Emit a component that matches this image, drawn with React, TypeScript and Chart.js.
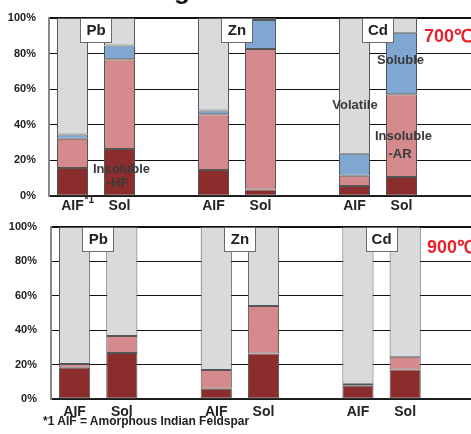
import React, { useEffect, useRef } from 'react';
import { Chart, registerables } from 'chart.js';

Chart.register(...registerables);

const FONT = '"Liberation Sans", Arial, Helvetica, sans-serif';

const categories = ['AIF', 'Sol', '', 'AIF', 'Sol', '', 'AIF', 'Sol', ''];
const elements = ['Pb', 'Zn', 'Cd'];
const yTickValues = [0, 20, 40, 60, 80, 100];

// 700 °C
const hf700 = [15.7, 26.4, null, 14.6, 3.7, null, 5.6, 10.7, null];
const ar700 = [16.5, 50.4, null, 31.3, 78.9, null, 5.8, 46.4, null];
const sol700 = [2.4, 7.8, null, 2.2, 16.3, null, 12.4, 34.6, null];
const vol700 = [65.4, 15.4, null, 51.9, 1.1, null, 76.2, 8.3, null];

// 900 °C
const hf900 = [18.1, 26.8, null, 6.0, 26.4, null, 7.7, 17.2, null];
const ar900 = [2.2, 9.9, null, 10.8, 27.6, null, 1.2, 7.3, null];
const sol900 = [null, null, null, null, null, null, null, null, null];
const vol900 = [79.7, 63.3, null, 83.2, 46.0, null, 91.1, 75.5, null];

const seriesNames = ['Insoluble-HF', 'Insoluble-AR', 'Soluble', 'Volatile'];
const seriesColors = ['#8B2D2D', '#D48A8D', '#7FA7D1', '#D9DADC'];

type Note = { text: string; cat: number; dx: number; v: number };

const notes700: Note[] = [
  { text: 'Insoluble', cat: 1, dx: 2, v: 15.2 },
  { text: '-HF', cat: 1, dx: -2, v: 7.3 },
  { text: 'Volatile', cat: 6, dx: 0.5, v: 50.7 },
  { text: 'Soluble', cat: 7, dx: -1, v: 76 },
  { text: 'Insoluble', cat: 7, dx: 2, v: 33.3 },
  { text: '-AR', cat: 7, dx: -1.5, v: 23.6 },
];

interface Props {
  top: number;
  height: number;
  data: (number | null)[][];
  temp: string;
  tempDy: number;
  tempX: number;
  yWidth: number;
  padTop: number;
  xHeight: number;
  padRight: number;
  xTickPad: number;
  yTickGap: number;
  notes: Note[];
  footMark: boolean;
  titleFrag: boolean;
}

function StackChart(p: Props) {
  const ref = useRef<HTMLCanvasElement>(null);
  useEffect(() => {
    const canvas = ref.current;
    if (!canvas) return;
    const overlay = {
      id: 'overlay',
      afterDraw(chart: any) {
        const { ctx, chartArea } = chart;
        const x = chart.scales.x;
        const y = chart.scales.y;
        ctx.save();
        // element boxes
        elements.forEach((el, i) => {
          const cx = (x.getPixelForValue(i * 3) + x.getPixelForValue(i * 3 + 1)) / 2;
          const w = 32;
          const h = 24;
          const bx = Math.round(cx - w / 2);
          const by = Math.round(chartArea.top);
          ctx.fillStyle = '#ffffff';
          ctx.fillRect(bx, by, w, h);
          ctx.strokeStyle = '#6a6a6a';
          ctx.lineWidth = 1;
          ctx.strokeRect(bx + 0.5, by + 0.5, w - 1, h);
          ctx.fillStyle = '#222222';
          ctx.font = `bold 15px ${FONT}`;
          ctx.textAlign = 'center';
          ctx.textBaseline = 'middle';
          ctx.fillText(el, cx, by + h / 2 + 1);
        });
        // temperature
        ctx.fillStyle = '#E8202A';
        ctx.font = `bold 18px ${FONT}`;
        ctx.textAlign = 'left';
        ctx.textBaseline = 'middle';
        ctx.fillText(p.temp, p.tempX, chartArea.top + p.tempDy);
        // notes
        ctx.fillStyle = '#3a3a3a';
        ctx.font = `bold 13px ${FONT}`;
        ctx.textAlign = 'center';
        p.notes.forEach((n) => {
          ctx.fillText(n.text, x.getPixelForValue(n.cat) + n.dx, y.getPixelForValue(n.v));
        });
        // footnote mark
        if (p.footMark) {
          ctx.fillStyle = '#222222';
          ctx.font = `bold 10px ${FONT}`;
          ctx.textAlign = 'left';
          ctx.fillText('*1', x.getPixelForValue(0) + 12, chartArea.bottom + 4);
        }
        if (p.titleFrag) {
          ctx.fillStyle = '#111111';
          ctx.font = `bold 26px ${FONT}`;
          ctx.textAlign = 'left';
          ctx.textBaseline = 'alphabetic';
          ctx.fillText('g', 174, -1.5);
        }
        ctx.restore();
      },
    };
    const chart = new Chart(canvas, {
      type: 'bar',
      data: {
        labels: categories,
        datasets: p.data.map((d, i) => ({
          label: seriesNames[i],
          data: d,
          backgroundColor: seriesColors[i],
          borderColor: '#555555',
          borderWidth: 1,
          borderSkipped: false,
          barPercentage: 0.66,
          categoryPercentage: 1,
        })),
      },
      options: {
        animation: false,
        responsive: false,
        maintainAspectRatio: false,
        devicePixelRatio: 1,
        layout: { padding: { top: p.padTop, left: 0, right: p.padRight, bottom: 0 } },
        plugins: { legend: { display: false }, tooltip: { enabled: false }, title: { display: false } },
        scales: {
          x: {
            stacked: true,
            grid: { display: false, drawTicks: false },
            border: { display: true, color: '#222222', width: 1.5 },
            ticks: {
              padding: p.xTickPad,
              color: '#222222',
              font: { family: FONT, size: 14, weight: 'bold' },
              maxRotation: 0,
              autoSkip: false,
            },
            afterFit: (s: any) => {
              s.height = p.xHeight;
            },
          },
          y: {
            stacked: true,
            min: 0,
            max: 100,
            afterBuildTicks: (s: any) => {
              s.ticks = yTickValues.map((v) => ({ value: v }));
            },
            grid: {
              drawTicks: true,
              tickLength: p.yTickGap,
              tickColor: 'rgba(0,0,0,0)',
              color: '#111111',
              lineWidth: (c: any) => (c.tick && c.tick.value === 100 ? 2 : 1),
            },
            border: { display: true, color: '#888888', width: 2 },
            ticks: {
              padding: 0,
              color: '#222222',
              font: { family: FONT, size: 11, weight: 'bold' },
              callback: (v: any) => `${v}%`,
            },
            afterFit: (s: any) => {
              s.width = p.yWidth;
            },
          },
        },
      },
      plugins: [overlay],
    });
    return () => chart.destroy();
  }, []);
  return (
    <canvas
      ref={ref}
      width={480}
      height={p.height}
      style={{ position: 'absolute', left: 0, top: p.top, width: 480, height: p.height }}
    />
  );
}

export default function App() {
  return (
    <div
      style={{
        position: 'fixed',
        left: 0,
        top: 0,
        width: 471,
        height: 434,
        overflow: 'hidden',
        background: '#ffffff',
      }}
    >
      <StackChart
        top={0}
        height={216}
        data={[hf700, ar700, sol700, vol700]}
        temp="700℃"
        tempX={424}
        tempDy={18.7}
        yWidth={49}
        padTop={18}
        xHeight={20}
        padRight={8}
        xTickPad={2}
        yTickGap={13}
        notes={notes700}
        footMark={true}
        titleFrag={true}
      />
      <StackChart
        top={216}
        height={218}
        data={[hf900, ar900, sol900, vol900]}
        temp="900℃"
        tempX={427}
        tempDy={21}
        yWidth={51}
        padTop={11}
        xHeight={35}
        padRight={4}
        xTickPad={5}
        yTickGap={14}
        notes={[]}
        footMark={false}
        titleFrag={false}
      />
      <div
        style={{
          position: 'absolute',
          left: 43,
          top: 414,
          fontFamily: FONT,
          fontWeight: 'bold',
          fontSize: 12,
          lineHeight: '14px',
          color: '#222222',
          whiteSpace: 'nowrap',
        }}
      >
        *1 AIF = Amorphous Indian Feldspar
      </div>
    </div>
  );
}
